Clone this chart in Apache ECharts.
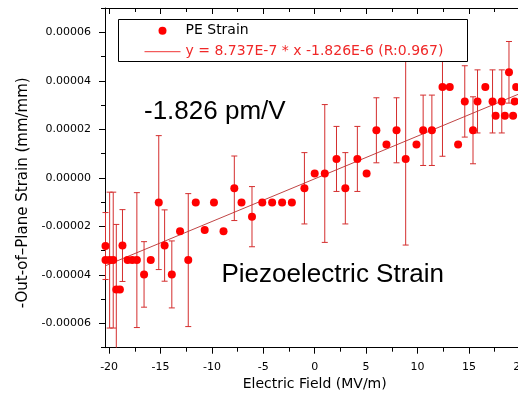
<!DOCTYPE html>
<html>
<head>
<meta charset="utf-8">
<script src="https://cdn.jsdelivr.net/npm/echarts@6/dist/echarts.min.js"></script>
<style>
  html, body { margin: 0; padding: 0; background: #fff; }
  #chart { width: 518px; height: 400px; }
</style>
</head>
<body>
<div id="chart"></div>
<script>
// ---- data ----
const fieldMVm = [-20.35, -20.35, -19.95, -19.60, -19.30, -18.95, -18.70, -18.20, -17.75, -17.30,
  -16.60, -15.95, -15.17, -14.60, -13.90, -13.10, -12.30, -11.57, -10.70, -9.80,
  -8.87, -7.82, -7.12, -6.10, -5.10, -4.14, -3.17, -2.22, -1.00, 0.00,
  0.98, 2.12, 2.98, 4.15, 5.05, 6.00, 6.98, 7.96, 8.85, 9.90,
  10.55, 11.40, 12.43, 13.14, 13.95, 14.60, 15.40, 15.84, 16.60, 17.30,
  17.60, 18.20, 18.50, 18.90, 19.30, 19.46, 19.60];
const strain = [-2.81e-5, -3.39e-5, -3.39e-5, -3.39e-5, -4.60e-5, -4.60e-5, -2.79e-5, -3.39e-5, -3.39e-5, -3.39e-5,
  -3.98e-5, -3.39e-5, -1.02e-5, -2.79e-5, -3.98e-5, -2.20e-5, -3.39e-5, -1.02e-5, -2.15e-5, -1.02e-5,
  -2.20e-5, -0.43e-5, -1.02e-5, -1.60e-5, -1.02e-5, -1.02e-5, -1.02e-5, -1.02e-5, -0.43e-5, 0.18e-5,
  0.18e-5, 0.78e-5, -0.43e-5, 0.78e-5, 0.18e-5, 1.96e-5, 1.37e-5, 1.96e-5, 0.78e-5, 1.37e-5,
  1.96e-5, 1.96e-5, 3.74e-5, 3.74e-5, 1.37e-5, 3.15e-5, 1.96e-5, 3.15e-5, 3.74e-5, 3.15e-5,
  2.56e-5, 3.15e-5, 2.56e-5, 4.35e-5, 2.56e-5, 3.15e-5, 3.74e-5];
const errMinus = [1.38e-5, 0, 2.80e-5, 2.80e-5, 2.68e-5, 0, 1.48e-5, 0, 0, 2.78e-5,
  1.35e-5, 0, 2.76e-5, 1.47e-5, 1.38e-5, 0, 2.74e-5, 0, 0, 0,
  0, 1.33e-5, 0, 1.24e-5, 0, 0, 0, 0, 1.47e-5, 0,
  2.84e-5, 1.34e-5, 1.47e-5, 1.34e-5, 0, 1.34e-5, 0, 1.34e-5, 3.55e-5, 0,
  1.45e-5, 1.45e-5, 2.85e-5, 0, 0, 1.47e-5, 1.38e-5, 1.30e-5, 0, 1.30e-5,
  0, 1.30e-5, 0, 1.27e-5, 0, 0, 0];
const errPlus = [1.38e-5, 0, 2.80e-5, 2.80e-5, 2.68e-5, 0, 1.48e-5, 0, 0, 2.78e-5,
  1.35e-5, 0, 2.76e-5, 1.47e-5, 1.38e-5, 0, 2.74e-5, 0, 0, 0,
  0, 1.33e-5, 0, 1.24e-5, 0, 0, 0, 0, 1.47e-5, 0,
  2.84e-5, 1.34e-5, 1.47e-5, 1.34e-5, 0, 1.34e-5, 0, 1.34e-5, 5.50e-5, 0,
  1.45e-5, 1.45e-5, 2.60e-5, 0, 0, 1.47e-5, 1.38e-5, 1.30e-5, 0, 1.30e-5,
  0, 1.30e-5, 0, 1.27e-5, 0, 0, 0];
// fitted line as drawn (two end points)
const fitLine = [[-20.4, -3.63e-5], [20.4, 3.55e-5]];
const fitName = 'y = 8.737E-7 * x -1.826E-6 (R:0.967)';
const seriesName = 'PE Strain';
const xMajorTicks = [-20, -15, -10, -5, 0, 5, 10, 15, 20];
const xMinorTicks = [-17.5, -12.5, -7.5, -2.5, 2.5, 7.5, 12.5, 17.5];
const yMajorTicks = [-6e-5, -4e-5, -2e-5, 0, 2e-5, 4e-5, 6e-5];
const yMinorTicks = [-7e-5, -5e-5, -3e-5, -1e-5, 1e-5, 3e-5, 5e-5, 7e-5];
const X_MIN = -20.4, X_MAX = 20.4, Y_MIN = -7e-5, Y_MAX = 7e-5;

const pts = fieldMVm.map((x, i) => [x, strain[i]]);
const bars = fieldMVm.map((x, i) => [x, strain[i], errMinus[i], errPlus[i]]);

const FONT = '"DejaVu Sans", sans-serif';
const chart = echarts.init(document.getElementById('chart'), null, { renderer: 'canvas' });

function baseX(extra) {
  return Object.assign({
    type: 'value', min: X_MIN, max: X_MAX, gridIndex: 0,
    splitLine: { show: false },
    axisLine: { show: false, onZero: false },
    axisLabel: { show: false },
    axisTick: { show: false }
  }, extra);
}
function baseY(extra) {
  return Object.assign({
    type: 'value', min: Y_MIN, max: Y_MAX, gridIndex: 0,
    splitLine: { show: false },
    axisLine: { show: false, onZero: false },
    axisLabel: { show: false },
    axisTick: { show: false }
  }, extra);
}

function renderErr(params, api) {
  const x = api.value(0), y = api.value(1), lo = api.value(2), hi = api.value(3);
  if (!(lo > 0 || hi > 0)) return null;
  const yl = Math.max(y - lo, Y_MIN), yh = Math.min(y + hi, Y_MAX);
  const pTop = api.coord([x, yh]);
  const pBot = api.coord([x, yl]);
  const style = { stroke: '#d42e2e', lineWidth: 1 };
  const children = [{ type: 'line', shape: { x1: pTop[0], y1: pTop[1], x2: pBot[0], y2: pBot[1] }, style }];
  const cw = 3;
  if (y + hi <= Y_MAX) children.push({ type: 'line', shape: { x1: pTop[0] - cw, y1: pTop[1], x2: pTop[0] + cw, y2: pTop[1] }, style });
  if (y - lo >= Y_MIN) children.push({ type: 'line', shape: { x1: pBot[0] - cw, y1: pBot[1], x2: pBot[0] + cw, y2: pBot[1] }, style });
  return { type: 'group', children };
}

const option = {
  backgroundColor: '#fff',
  animation: false,
  textStyle: { fontFamily: FONT },
  grid: { left: 105, top: 8, right: -6.4, bottom: 52.3, outerBoundsMode: 'none', containLabel: false },
  xAxis: [
    baseX({
      position: 'bottom',
      axisLine: { show: true, onZero: false, lineStyle: { color: '#000', width: 1 } },
      axisTick: { show: true, inside: false, length: 6, customValues: xMajorTicks, lineStyle: { color: '#000' } },
      axisLabel: { show: true, customValues: xMajorTicks, margin: 14, color: '#000', fontSize: 11, fontFamily: FONT },
      name: 'Electric Field (MV/m)', nameLocation: 'middle', nameGap: 25,
      nameTextStyle: { fontSize: 14, color: '#000', fontFamily: FONT }
    }),
    baseX({
      position: 'bottom',
      axisTick: { show: true, inside: false, length: 4, customValues: xMinorTicks, lineStyle: { color: '#000' } }
    }),
    baseX({
      position: 'top',
      axisLine: { show: true, onZero: false, lineStyle: { color: '#000', width: 1 } },
      axisTick: { show: true, inside: true, length: 6, customValues: xMajorTicks, lineStyle: { color: '#000' } }
    }),
    baseX({
      position: 'top',
      axisTick: { show: true, inside: true, length: 4, customValues: xMinorTicks, lineStyle: { color: '#000' } }
    })
  ],
  yAxis: [
    baseY({
      position: 'left',
      axisLine: { show: true, onZero: false, lineStyle: { color: '#000', width: 1 } },
      axisTick: { show: true, inside: false, length: 6, customValues: yMajorTicks, lineStyle: { color: '#000' } },
      axisLabel: { show: true, customValues: yMajorTicks, margin: 14, color: '#000', fontSize: 11, fontFamily: FONT,
        formatter: v => (Math.abs(v) < 1e-12 ? 0 : v).toFixed(5) },
      name: '-Out-of\u2013Plane Strain (mm/mm)', nameLocation: 'middle', nameGap: 72,
      nameTextStyle: { fontSize: 15, color: '#000', fontFamily: FONT, padding: [0, 30, 0, 0] }
    }),
    baseY({
      position: 'left',
      axisTick: { show: true, inside: false, length: 4, customValues: yMinorTicks, lineStyle: { color: '#000' } }
    })
  ],
  legend: {
    orient: 'vertical', left: 144, top: 23.7, padding: 0, itemGap: 7,
    itemWidth: 36, itemHeight: 8, z: 10,
    textStyle: { fontSize: 14, lineHeight: 14, color: '#000', fontFamily: FONT },
    data: [
      { name: seriesName },
      { name: fitName, textStyle: { color: '#f02828' },
        itemStyle: { opacity: 0, borderWidth: 0 },
        lineStyle: { color: '#f03535', width: 1 } }
    ]
  },
  graphic: {
    elements: [
      { type: 'rect', z: 9, shape: { x: 118.5, y: 19.5, width: 349, height: 42 },
        style: { fill: '#fff', stroke: '#000', lineWidth: 1 } },
      { type: 'text', z: 9, x: 144, y: 112,
        style: { text: '-1.826 pm/V', font: '26px "Liberation Sans", Arial, sans-serif', fill: '#000', verticalAlign: 'middle' } },
      { type: 'text', z: 9, x: 221.5, y: 275,
        style: { text: 'Piezoelectric Strain', font: '26px "Liberation Sans", Arial, sans-serif', fill: '#000', verticalAlign: 'middle' } }
    ]
  },
  series: [
    {
      name: fitName, type: 'line', xAxisIndex: 0, yAxisIndex: 0, data: fitLine,
      symbol: 'none', lineStyle: { color: '#c04545', width: 1 }, itemStyle: { color: '#e03030' }, z: 2
    },
    {
      name: 'errors', type: 'custom', xAxisIndex: 0, yAxisIndex: 0, data: bars,
      renderItem: renderErr, encode: { x: 0, y: 1 }, z: 3, silent: true
    },
    {
      name: seriesName, type: 'scatter', xAxisIndex: 0, yAxisIndex: 0, data: pts,
      symbol: 'circle', symbolSize: 8, itemStyle: { color: '#ff0000', opacity: 1 }, z: 4
    }
  ]
};
chart.setOption(option);
</script>
</body>
</html>
